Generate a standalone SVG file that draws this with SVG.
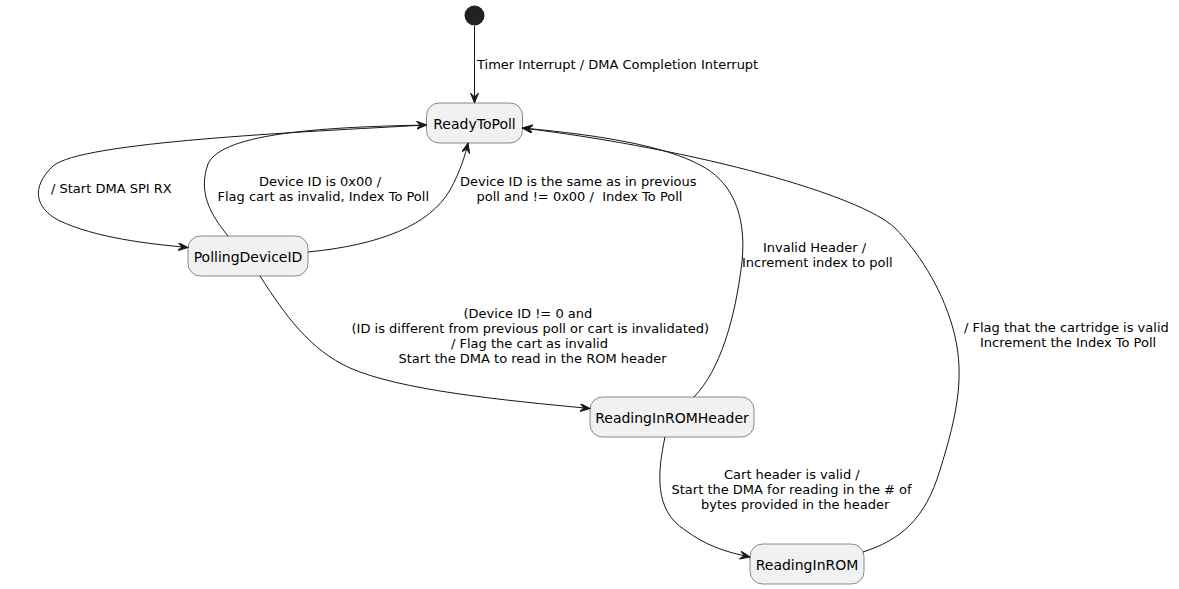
<svg xmlns="http://www.w3.org/2000/svg" width="1179" height="589" viewBox="0 0 1179 589">
<style>
.state rect{fill:#F1F1F1;stroke:#181818;stroke-width:0.5}
.state text{font-family:"DejaVu Sans",sans-serif;font-size:14px;fill:#000;text-anchor:middle}
.edge{fill:none;stroke:#181818;stroke-width:1;marker-end:url(#arr)}
.lbl{font-family:"DejaVu Sans",sans-serif;font-size:13px;fill:#000}
</style>
<defs>
<marker id="arr" markerUnits="userSpaceOnUse" markerWidth="11" markerHeight="9" refX="10" refY="4" orient="auto" viewBox="0 0 11 9">
<path d="M0,0 L10,4 L0,8 L4,4 Z" fill="#181818" stroke="#181818" stroke-width="1"/>
</marker>
</defs>
<rect width="1179" height="589" fill="#FFFFFF"/>
<g id="start"><circle cx="474.5" cy="15.5" r="10" fill="#222222"/></g>
<g id="ReadyToPoll" class="state"><rect x="426.5" y="103" width="96" height="40" rx="12.5"/><text x="474.5" y="128.5">ReadyToPoll</text></g>
<g id="PollingDeviceID" class="state"><rect x="188" y="236" width="120" height="40" rx="12.5"/><text x="248" y="261.5">PollingDeviceID</text></g>
<g id="ReadingInROMHeader" class="state"><rect x="590" y="397" width="164" height="40" rx="12.5"/><text x="672" y="422.5">ReadingInROMHeader</text></g>
<g id="ReadingInROM" class="state"><rect x="750" y="544" width="114" height="40" rx="12.5"/><text x="807" y="569.5">ReadingInROM</text></g>
<g id="connectors">
<path class="edge" d="M474.5,26 L474.5,103"/>
<path class="edge" d="M426.5,125 C300,132 80,142 53,166 C30,188 36,208 58,220 C95,238 150,244 188,247.5"/>
<path class="edge" d="M228,236 C210,214 198,192 208,164 C222,132 330,127 426.5,125"/>
<path class="edge" d="M308,252 C380,245 430,225 450,190 C460,172 465,156 468,143"/>
<path class="edge" d="M260,276 C285,315 310,350 350,368 C400,390 500,400 590,408.5"/>
<path class="edge" d="M694,397 C720,370 735,320 742,262 C747,212 730,180 700,165 C665,146 600,135 522.5,128"/>
<path class="edge" d="M863,552 C900,540 925,520 940,470 C958,412 966,372 952,325 C940,285 918,252 895,228 C860,195 700,150 522.5,128"/>
<path class="edge" d="M665,437 C658,470 653,510 685,530 C705,545 725,552 750,557"/>
</g>
<g id="labels">
<text class="lbl" x="477" y="69">Timer Interrupt / DMA Completion Interrupt</text>
<text class="lbl" x="51" y="193">/ Start DMA SPI RX</text>
<text class="lbl" x="259" y="186">Device ID is 0x00 /</text>
<text class="lbl" x="217.5" y="201">Flag cart as invalid, Index To Poll</text>
<text class="lbl" x="460" y="186">Device ID is the same as in previous</text>
<text class="lbl" x="476.5" y="201" xml:space="preserve">poll and != 0x00 /  Index To Poll</text>
<text class="lbl" x="463.5" y="318">(Device ID != 0 and</text>
<text class="lbl" x="351.5" y="333">(ID is different from previous poll or cart is invalidated)</text>
<text class="lbl" x="451" y="348">/ Flag the cart as invalid</text>
<text class="lbl" x="398.5" y="363">Start the DMA to read in the ROM header</text>
<text class="lbl" x="763" y="252">Invalid Header /</text>
<text class="lbl" x="742" y="267">Increment index to poll</text>
<text class="lbl" x="964" y="332">/ Flag that the cartridge is valid</text>
<text class="lbl" x="980" y="347">Increment the Index To Poll</text>
<text class="lbl" x="724" y="479">Cart header is valid /</text>
<text class="lbl" x="671.5" y="494">Start the DMA for reading in the # of</text>
<text class="lbl" x="701" y="509">bytes provided in the header</text>
</g>
</svg>
